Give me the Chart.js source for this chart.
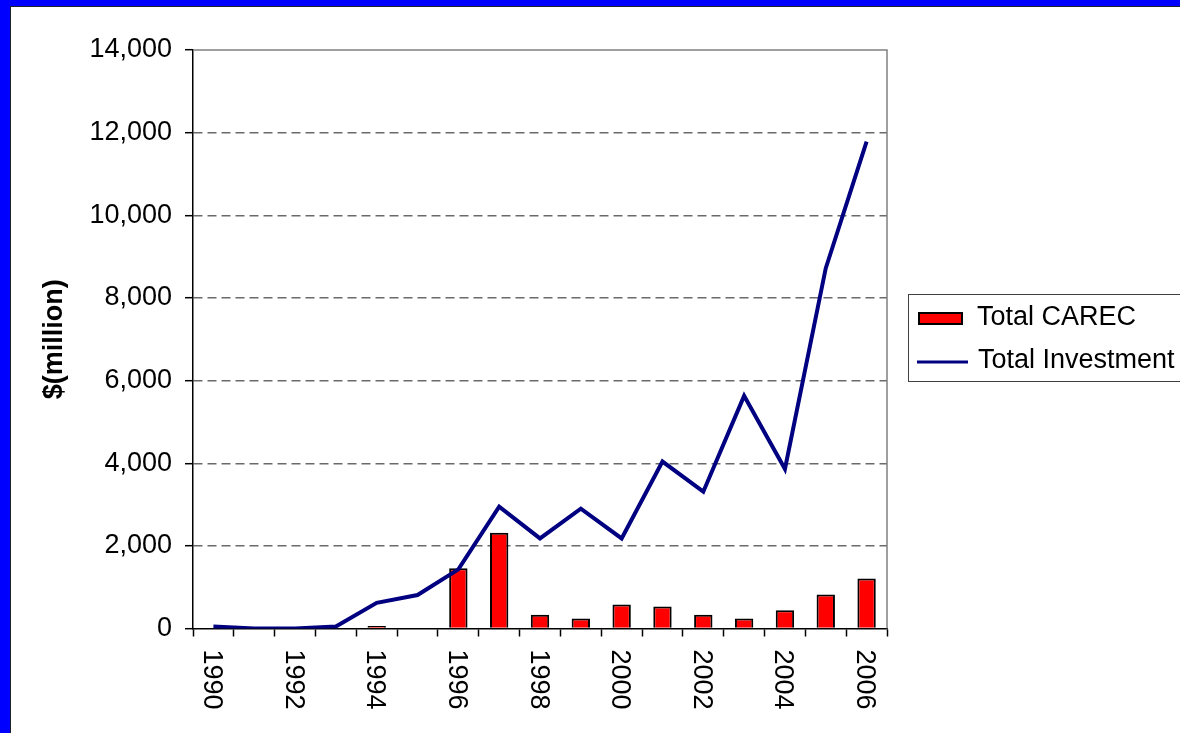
<!DOCTYPE html>
<html>
<head>
<meta charset="utf-8">
<script src="https://cdn.jsdelivr.net/npm/chart.js@4"></script>
<style>
  body { margin: 0; background: #fff; }
  #frame { position: absolute; left: 0; top: 0; width: 1180px; height: 733px; background: #0000ff; overflow: hidden; }
  #inner { position: absolute; left: 10px; top: 6px; right: 0; bottom: 0; background: #fff;
           border-left: 1.5px solid #202030; border-top: 1.5px solid #202030; }
  #chart { position: absolute; left: 0; top: 0; }
</style>
</head>
<body>
<div id="frame"><div id="inner"></div></div>
<canvas id="chart" width="1180" height="733"></canvas>
<script>
const years = ['1990', '1991', '1992', '1993', '1994', '1995', '1996', '1997', '1998',
               '1999', '2000', '2001', '2002', '2003', '2004', '2005', '2006'];
const totalCarec = [null, null, null, null, 60, null, 1460, 2320, 330, 240, 580, 530, 330, 240, 440, 820, 1210];
const totalInvestment = [50, 0, 0, 50, 620, 810, 1430, 2950, 2180, 2900, 2180, 4040, 3310, 5630, 3860, 8720, 11780];
const xTickLabels = ['1990', '1992', '1994', '1996', '1998', '2000', '2002', '2004', '2006'];
const yMin = 0, yMax = 14000, yStep = 2000;
const seriesNames = ['Total CAREC', 'Total Investment'];

const FONT = "'Liberation Sans', Arial, sans-serif";
Chart.defaults.font.family = FONT;
Chart.defaults.color = '#000';

// year labels run top-to-bottom, which chart.js can't rotate that way
const xLabelPlugin = {
  id: 'xLabels',
  afterDraw(chart) {
    const ctx = chart.ctx;
    const xs = chart.scales.x;
    ctx.save();
    ctx.font = '27px ' + FONT;
    ctx.fillStyle = '#000';
    ctx.textAlign = 'left';
    ctx.textBaseline = 'middle';
    xTickLabels.forEach(lbl => {
      const x = xs.getPixelForValue(years.indexOf(lbl)) - 2;
      ctx.save();
      ctx.translate(x, xs.top + 21);
      ctx.rotate(Math.PI / 2);
      ctx.fillText(lbl, 0, 0);
      ctx.restore();
    });
    ctx.restore();
  }
};

// grey frame on top/right of plot area, plus the boxed legend
const framePlugin = {
  id: 'frameLegend',
  beforeDatasetsDraw(chart) {
    const {ctx, chartArea: a} = chart;
    ctx.save();
    ctx.strokeStyle = '#808080';
    ctx.lineWidth = 1.5;
    ctx.beginPath();
    ctx.moveTo(a.left, a.top);
    ctx.lineTo(a.right, a.top);
    ctx.lineTo(a.right, a.bottom);
    ctx.stroke();
    ctx.restore();
  },
  afterDraw(chart) {
    const ctx = chart.ctx;
    const ds = chart.data.datasets;
    ctx.save();
    ctx.strokeStyle = '#404040';
    ctx.lineWidth = 1;
    ctx.strokeRect(908.5, 294.5, 400, 87);
    // bar swatch
    ctx.fillStyle = ds[0].backgroundColor;
    ctx.fillRect(918, 312, 45, 13);
    ctx.strokeStyle = '#000';
    ctx.lineWidth = 2;
    ctx.strokeRect(919, 313, 43, 11);
    // line swatch
    ctx.strokeStyle = ds[1].borderColor;
    ctx.lineWidth = 3;
    ctx.beginPath();
    ctx.moveTo(917, 362);
    ctx.lineTo(968, 362);
    ctx.stroke();
    ctx.fillStyle = '#000';
    ctx.font = '27px ' + FONT;
    ctx.textAlign = 'left';
    ctx.textBaseline = 'middle';
    ctx.fillText(ds[0].label, 977, 318);
    ctx.fillText(ds[1].label, 978, 361);
    ctx.restore();
  }
};

new Chart(document.getElementById('chart'), {
  type: 'bar',
  data: {
    labels: years,
    datasets: [
      {
        type: 'bar',
        label: seriesNames[0],
        data: totalCarec,
        backgroundColor: '#ff0000',
        borderColor: '#000',
        borderWidth: 2,
        barPercentage: 0.45,
        categoryPercentage: 1,
        order: 1
      },
      {
        type: 'line',
        label: seriesNames[1],
        data: totalInvestment,
        borderColor: '#000080',
        borderWidth: 4,
        pointRadius: 0,
        tension: 0,
        fill: false,
        order: 0
      }
    ]
  },
  options: {
    responsive: false,
    devicePixelRatio: 1,
    animation: false,
    layout: { padding: { left: 0, top: 50, right: 293, bottom: 0 } },
    plugins: { legend: { display: false }, tooltip: { enabled: false } },
    scales: {
      x: {
        offset: true,
        grid: {
          offset: true,
          drawOnChartArea: false,
          color: '#000',
          tickColor: '#000',
          tickLength: 8,
          tickWidth: 1.5
        },
        border: { color: '#000', width: 1.5 },
        ticks: { display: false },
        afterFit: s => { s.height = 104.5; }
      },
      y: {
        min: yMin,
        max: yMax,
        ticks: {
          stepSize: yStep,
          padding: 13,
          font: { size: 27 },
          color: '#000',
          callback: v => v.toLocaleString('en-US')
        },
        grid: {
          color: c => (c.tick && (c.tick.value === yMin || c.tick.value === yMax)) ? 'rgba(0,0,0,0)' : '#6a6a6a',
          lineWidth: 1.4,
          tickColor: '#000',
          tickLength: 8,
          tickWidth: 1.5,
          tickBorderDash: []
        },
        border: { display: true, color: '#000', width: 1.5, dash: [9, 5] },
        title: {
          display: true,
          text: '$(million)',
          font: { size: 27, weight: 'bold' },
          color: '#000',
          padding: { top: 38, bottom: 0 }
        },
        afterFit: s => { s.width = 193; }
      }
    }
  },
  plugins: [xLabelPlugin, framePlugin]
});
</script>
</body>
</html>
